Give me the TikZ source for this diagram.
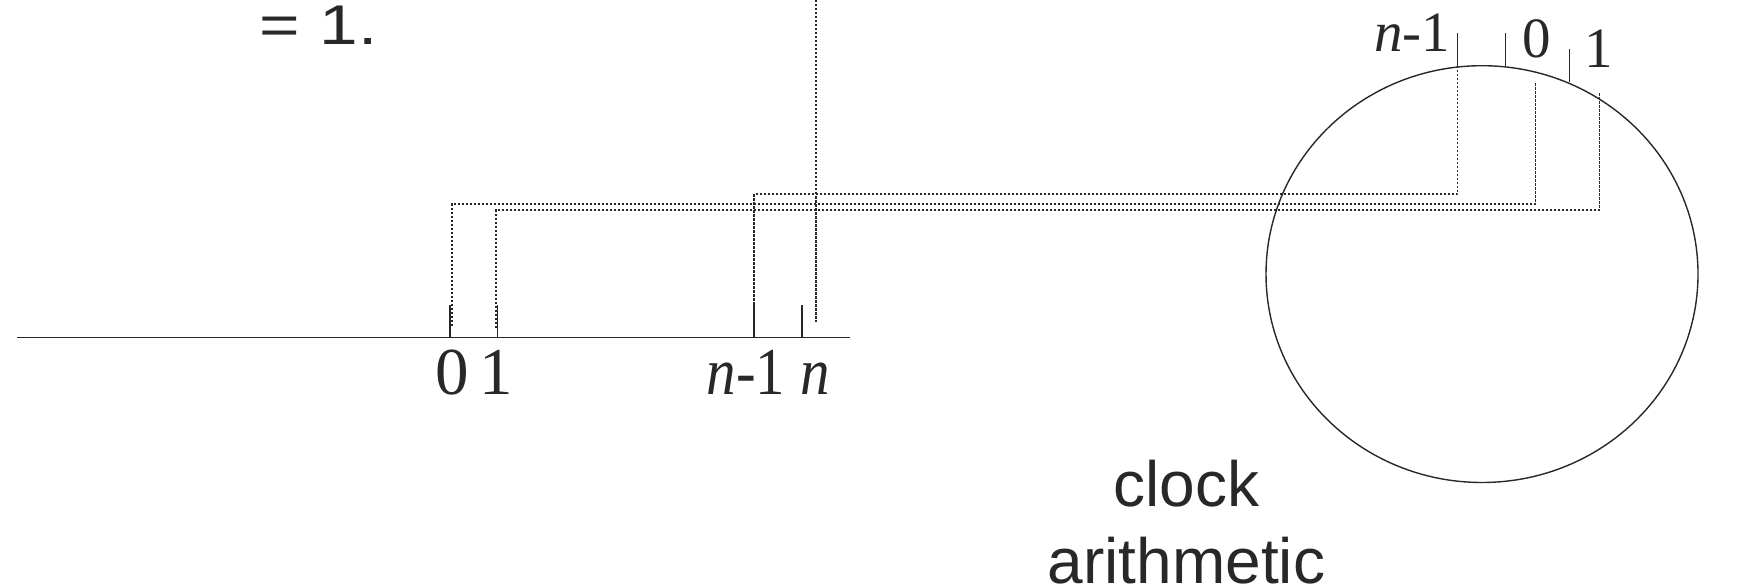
\documentclass[tikz,border=0pt]{standalone}
\usepackage{fontspec}
\setmainfont{Liberation Serif}
\newfontfamily\sansf{Liberation Sans}
\usepackage{graphicx}
\usetikzlibrary{shapes.geometric}
\definecolor{ink}{RGB}{40,40,40}
\begin{document}
\begin{tikzpicture}[x=1pt,y=-1pt,
  axis/.style={draw=ink,line width=1.8pt},
  tickmark/.style={draw=ink,line width=1.4pt},
  guide/.style={draw=ink,line width=1.3pt,dash pattern=on 2.5pt off 1.5pt},
  ring/.style={draw=ink,line width=1.4pt},
  lblbig/.style={text=ink,inner sep=0pt,anchor=base,font=\fontsize{67}{80}\selectfont},
  lblsmall/.style={text=ink,inner sep=0pt,anchor=base,font=\fontsize{57}{68}\selectfont},
  sanstext/.style={text=ink,inner sep=0pt,anchor=base,font=\sansf\fontsize{64}{77}\selectfont}]
\useasboundingbox (0,0) rectangle (1747,588);

% number line
\coordinate (lineL) at (17.3,337.5);
\coordinate (lineR) at (850,337.5);
\draw[axis] (lineL) -- (lineR);

% ticks on the number line
\coordinate (t0) at (450,337.5);   \coordinate (t0top) at (450,305);
\coordinate (t1) at (497.3,337.5); \coordinate (t1top) at (497.3,305);
\coordinate (tm) at (754,337.5);   \coordinate (tmtop) at (754,305);
\coordinate (tn) at (802,337.5);   \coordinate (tntop) at (802,305);
\draw[tickmark] (t0) -- (t0top);
\draw[tickmark] (t1) -- (t1top);
\draw[tickmark] (tm) -- (tmtop);
\draw[tickmark] (tn) -- (tntop);

% clock circle
\node[ring,ellipse,minimum width=432pt,minimum height=416.8pt,inner sep=0pt] (clock) at (1482,274.1) {};

% ticks on the circle
\coordinate (cm) at (1457.7,65.7);   \coordinate (cmtop) at (1457.7,33.3);
\coordinate (c0) at (1505.7,66);     \coordinate (c0top) at (1505.7,33.3);
\coordinate (c1) at (1569.7,82.5);   \coordinate (c1top) at (1569.7,49.3);
\draw[tickmark] (cm) -- (cmtop);
\draw[tickmark] (c0) -- (c0top);
\draw[tickmark] (c1) -- (c1top);

% guide lines
\coordinate (g0s) at (1535.7,83.3);
\coordinate (g1s) at (1599.7,93.3);
\coordinate (g0e) at (452,326);
\coordinate (g1e) at (496,328);
\coordinate (gns) at (816,0);
\coordinate (gne) at (816,321.7);
\draw[guide] (cm) |- (754,194) -- (tmtop);
\draw[guide] (g0s) |- (452,204) -- (g0e);
\draw[guide] (g1s) |- (496,210) -- (g1e);
\draw[guide] (gns) -- (gne);

% labels on the number line
\node[lblbig] (l0) at (452.5,394) {0};
\node[lblbig] (l1) at (496,394) {1};
\node[lblbig] (lm) at (746,394) {\scalebox{0.88}[1]{\textit{n}-1}};
\node[lblbig] (ln) at (815,394) {\scalebox{0.88}[1]{\textit{n}}};

% labels on the circle
\node[lblsmall] (cl m) at (1412,52) {\textit{n}-1};
\node[lblsmall] (cl 0) at (1536.5,57.5) {0};
\node[lblsmall] (cl 1) at (1599,68) {1};

% texts
\node[text=ink,inner sep=0pt,anchor=base west,font=\sansf\fontsize{56}{67}\selectfont] (eq) at (259.4,45) {\scalebox{1.24}[1]{= 1.}};
\node[sanstext] (clk) at (1186.5,506.7) {clock};
\node[sanstext] (ari) at (1186.5,583) {arithmetic};
\end{tikzpicture}
\end{document}
